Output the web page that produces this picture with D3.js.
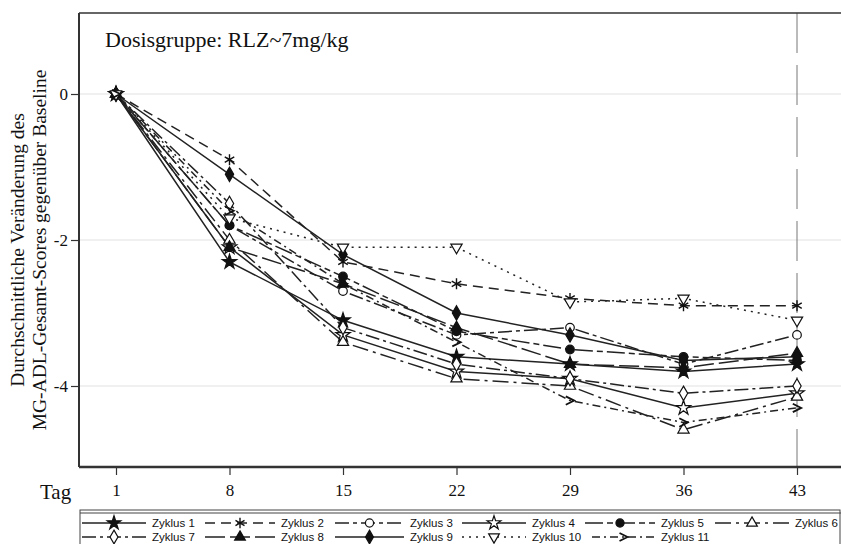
<!DOCTYPE html>
<html><head><meta charset="utf-8">
<script src="https://cdn.jsdelivr.net/npm/d3@7"></script>
<style>body{margin:0;background:#fff}svg{display:block}</style>
</head><body>
<script>
const days = [1, 8, 15, 22, 29, 36, 43];
const yTicks = [0, -2, -4];
const seriesNames = ["Zyklus 1","Zyklus 2","Zyklus 3","Zyklus 4","Zyklus 5","Zyklus 6","Zyklus 7","Zyklus 8","Zyklus 9","Zyklus 10","Zyklus 11"];
const z1  = [0, -2.3, -3.1, -3.6, -3.7, -3.8, -3.7];
const z2  = [0, -0.9, -2.3, -2.6, -2.8, -2.9, -2.9];
const z3  = [0, -1.8, -2.7, -3.3, -3.2, -3.7, -3.3];
const z4  = [0, -2.1, -3.3, -3.8, -3.9, -4.3, -4.1];
const z5  = [0, -1.8, -2.5, -3.25, -3.5, -3.6, -3.65];
const z6  = [0, -2.0, -3.4, -3.9, -4.0, -4.6, -4.15];
const z7  = [0, -1.5, -3.2, -3.7, -3.9, -4.1, -4.0];
const z8  = [0, -2.1, -2.6, -3.2, -3.7, -3.75, -3.55];
const z9  = [0, -1.1, -2.2, -3.0, -3.3, -3.65, -3.6];
const z10 = [0, -1.7, -2.1, -2.1, -2.85, -2.8, -3.1];
const z11 = [0, -1.6, -2.6, -3.4, -4.2, -4.5, -4.3];
const seriesValues = [z1,z2,z3,z4,z5,z6,z7,z8,z9,z10,z11];

const markers = ["starF","asterisk","circleO","starO","circleF","triO","diamondO","triF","diamondF","triDownO",">"];
const dashes = [null,"10,6","14,4,4,4",null,"18,4,6,4","16,5,3,5","14,4,3,4","20,5",null,"2,5","8,4,2,4"];

const W = 841, H = 544;
const svg = d3.select("body").append("svg").attr("width", W).attr("height", H);

const x = d3.scaleLinear().domain([1, 43]).range([116, 797]);
const y = d3.scaleLinear().domain([0, -4]).range([94, 386]);
const pTop = 13, pBottom = 467, pLeft = 79, pRight = 841;

// gridlines
svg.append("g").selectAll("line").data(yTicks).join("line")
  .attr("x1", pLeft).attr("x2", pRight).attr("y1", d => y(d)).attr("y2", d => y(d))
  .attr("stroke", "#e2e2e2").attr("stroke-width", 1.2);

// reference vertical line at day 43
svg.append("line").attr("x1", x(43)).attr("x2", x(43)).attr("y1", pTop).attr("y2", pBottom)
  .attr("stroke", "#777").attr("stroke-width", 1).attr("stroke-dasharray", "40,12");

// frame top
svg.append("line").attr("x1", pLeft).attr("x2", pRight).attr("y1", pTop).attr("y2", pTop)
  .attr("stroke", "#333").attr("stroke-width", 1.5);

// axes
const xAxis = d3.axisBottom(x).tickValues(days).tickSize(8).tickFormat(d3.format("d"));
const gx = svg.append("g").attr("transform", `translate(0,${pBottom})`).call(xAxis);
gx.select(".domain").attr("d", `M${pLeft},0H${pRight}`).attr("stroke", "#333").attr("stroke-width", 2.5);
gx.selectAll(".tick line").attr("stroke", "#333").attr("stroke-width", 1.2);
gx.selectAll(".tick text").attr("font-family", "Liberation Serif, serif").attr("font-size", 17)
  .attr("fill", "#111").attr("dy", "1.05em");

const yAxis = d3.axisLeft(y).tickValues(yTicks).tickSize(8).tickFormat(d => d === 0 ? "0" : "-" + Math.abs(d));
const gy = svg.append("g").attr("transform", `translate(${pLeft},0)`).call(yAxis);
gy.select(".domain").attr("d", `M0,${pTop}V${pBottom}`).attr("stroke", "#333").attr("stroke-width", 2);
gy.selectAll(".tick line").attr("stroke", "#333").attr("stroke-width", 1.2);
gy.selectAll(".tick text").attr("font-family", "Liberation Serif, serif").attr("font-size", 17).attr("fill", "#111");

svg.append("text").attr("x", 40).attr("y", 499).attr("font-family", "Liberation Serif, serif")
  .attr("font-size", 21).attr("fill", "#111").text("Tag");

// title
svg.append("text").attr("x", 105).attr("y", 47).attr("font-family", "Liberation Serif, serif")
  .attr("font-size", 22).attr("fill", "#111").text("Dosisgruppe: RLZ~7mg/kg");

// y label
const yl = svg.append("text").attr("transform", "translate(0,250) rotate(-90)")
  .attr("text-anchor", "middle").attr("font-family", "Liberation Serif, serif").attr("font-size", 19.5).attr("fill", "#111");
yl.append("tspan").attr("x", 0).attr("y", 24).text("Durchschnittliche Veränderung des");
yl.append("tspan").attr("x", 0).attr("y", 46).text("MG-ADL-Gesamt-Scores gegenüber Baseline");

// marker drawing
function drawMarker(g, type, cx, cy, s) {
  const col = "#111";
  const k = s || 1;
  if (type === "starF" || type === "starO") {
    g.append("path").attr("d", d3.symbol(d3.symbolStar, 65 * k)()).attr("transform", `translate(${cx},${cy})`)
      .attr("fill", type === "starF" ? col : "#fff").attr("stroke", col).attr("stroke-width", 1.2);
  } else if (type === "circleF" || type === "circleO") {
    g.append("circle").attr("cx", cx).attr("cy", cy).attr("r", 4.3 * Math.sqrt(k))
      .attr("fill", type === "circleF" ? col : "#fff").attr("stroke", col).attr("stroke-width", 1.2);
  } else if (type === "triO" || type === "triF") {
    g.append("path").attr("d", d3.symbol(d3.symbolTriangle, 55 * k)()).attr("transform", `translate(${cx},${cy})`)
      .attr("fill", type === "triF" ? col : "#fff").attr("stroke", col).attr("stroke-width", 1.2);
  } else if (type === "triDownO") {
    g.append("path").attr("d", d3.symbol(d3.symbolTriangle, 55 * k)()).attr("transform", `translate(${cx},${cy}) rotate(180)`)
      .attr("fill", "#fff").attr("stroke", col).attr("stroke-width", 1.2);
  } else if (type === "diamondO" || type === "diamondF") {
    g.append("path").attr("d", d3.symbol(d3.symbolDiamond, 60 * k)()).attr("transform", `translate(${cx},${cy})`)
      .attr("fill", type === "diamondF" ? col : "#fff").attr("stroke", col).attr("stroke-width", 1.2);
  } else if (type === "asterisk") {
    const r = 5.5 * Math.sqrt(k);
    let d = "";
    for (let a = 0; a < 3; a++) {
      const t = a * Math.PI / 3 + Math.PI / 2;
      d += `M${cx + r * Math.cos(t)},${cy + r * Math.sin(t)}L${cx - r * Math.cos(t)},${cy - r * Math.sin(t)}`;
    }
    g.append("path").attr("d", d).attr("stroke", col).attr("stroke-width", 1.4).attr("fill", "none");
  } else if (type === ">") {
    const r = 4.2 * Math.sqrt(k);
    g.append("path").attr("d", `M${cx - r},${cy - r}L${cx + r},${cy}L${cx - r},${cy + r}`)
      .attr("stroke", col).attr("stroke-width", 1.8).attr("fill", "none");
  }
}

// lines
const line = d3.line().x((d, i) => x(days[i])).y(d => y(d));
const gl = svg.append("g");
seriesValues.forEach((vals, si) => {
  gl.append("path").attr("d", line(vals)).attr("fill", "none").attr("stroke", "#222")
    .attr("stroke-width", 1.5).attr("stroke-dasharray", dashes[si]);
});
const gm = svg.append("g");
seriesValues.forEach((vals, si) => {
  vals.forEach((v, i) => drawMarker(gm, markers[si], x(days[i]), y(v)));
});

// legend
const lg = svg.append("g");
lg.append("rect").attr("x", 80).attr("y", 510).attr("width", 760).attr("height", 40)
  .attr("fill", "#fff").attr("stroke", "#444").attr("stroke-width", 1);
lg.append("line").attr("x1", 80).attr("x2", 841).attr("y1", 513).attr("y2", 513).attr("stroke", "#444").attr("stroke-width", 1.2);
const legTextX = [152, 281, 410, 532, 661, 795, 152, 281, 410, 532, 661];
const legSegStart = [82, 205, 335, 462, 585, 715, 82, 205, 335, 462, 592];
seriesNames.forEach((name, i) => {
  const row = i < 6 ? 0 : 1;
  const cy = row === 0 ? 523 : 537;
  const tx = legTextX[i], sx = legSegStart[i], ex = tx - 6;
  lg.append("line").attr("x1", sx).attr("x2", ex).attr("y1", cy).attr("y2", cy)
    .attr("stroke", "#222").attr("stroke-width", 1.5).attr("stroke-dasharray", dashes[i]);
  drawMarker(lg, markers[i], (sx + ex) / 2, cy, 0.9);
  lg.append("text").attr("x", tx).attr("y", cy + 4).attr("font-family", "Liberation Sans, Arial, sans-serif")
    .attr("font-size", 11.5).attr("fill", "#111").text(name);
});
</script>
</body></html>
